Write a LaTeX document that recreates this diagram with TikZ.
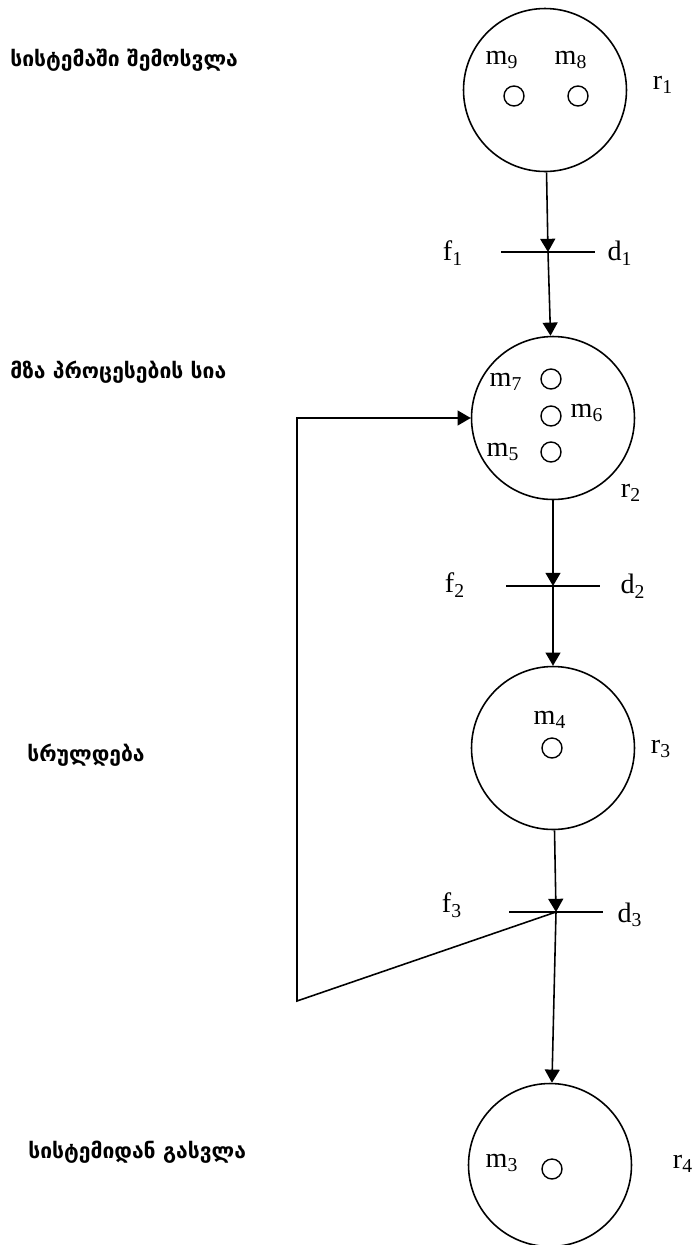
\documentclass[tikz,border=0pt]{standalone}
\usepackage{fontspec}
\setmainfont{Liberation Serif}
\newfontfamily\geofont{DejaVu Sans}
\usetikzlibrary{arrows.meta, positioning, calc}

\begin{document}
\begin{tikzpicture}[x=0.02cm, y=-0.02cm,
    place/.style={draw, line width=0.9pt, circle, minimum size=3.26cm, inner sep=0pt},
    token/.style={draw, line width=0.8pt, circle, minimum size=0.4cm, inner sep=0pt},
    bar/.style={draw, line width=0.9pt, rectangle, minimum width=1.88cm, minimum height=0pt, inner sep=0pt},
    lbl/.style={font=\fontsize{16}{18}\selectfont, inner sep=0pt},
    stage/.style={font=\geofont\bfseries\fontsize{12}{14}\selectfont, anchor=west, inner sep=0pt},
    arr/.style={line width=0.9pt, -{Triangle[length=7.5pt,width=8.5pt]}}
]
\useasboundingbox (0,0) rectangle (695,1245);

% places
\node[place] (r1) at (545,90) {};
\node[place] (r2) at (553,418) {};
\node[place] (r3) at (553,748) {};
\node[place] (r4) at (550,1165) {};

% tokens
\node[token] (k9) at (514,96) {};
\node[token] (k8) at (578,96) {};
\node[token] (k7) at (551,379) {};
\node[token] (k6) at (551,416) {};
\node[token] (k5) at (551,452) {};
\node[token] (k4) at (552,748) {};
\node[token] (k3) at (552,1169) {};

% transitions
\node[bar] (t1) at (548,252) {};
\node[bar] (t2) at (553,586) {};
\node[bar] (t3) at (556,912) {};

% labels
\node[lbl] (m9) at (502,60) {m\textsubscript{9}};
\node[lbl] (m8) at (571,60) {m\textsubscript{8}};
\node[lbl] (m7) at (506,382) {m\textsubscript{7}};
\node[lbl] (m6) at (587,413) {m\textsubscript{6}};
\node[lbl] (m5) at (503,452) {m\textsubscript{5}};
\node[lbl] (m4) at (550,720) {m\textsubscript{4}};
\node[lbl] (m3) at (502,1163) {m\textsubscript{3}};
\node[lbl] (lr1) at (663,85) {r\textsubscript{1}};
\node[lbl] (lr2) at (631,493) {r\textsubscript{2}};
\node[lbl] (lr3) at (661,749) {r\textsubscript{3}};
\node[lbl] (lr4) at (683,1164) {r\textsubscript{4}};
\node[lbl] (f1) at (453,253) {f\textsubscript{1}};
\node[lbl] (d1) at (620,253) {d\textsubscript{1}};
\node[lbl] (f2) at (455,585) {f\textsubscript{2}};
\node[lbl] (d2) at (633,586) {d\textsubscript{2}};
\node[lbl] (f3) at (452,905) {f\textsubscript{3}};
\node[lbl] (d3) at (630,915) {d\textsubscript{3}};

% stages
\node[stage] (s1) at (10,60) {სისტემაში შემოსვლა};
\node[stage] (s2) at (10,372) {მზა პროცესების სია};
\node[stage] (s3) at (27,755) {სრულდება};
\node[stage] (s4) at (28,1152) {სისტემიდან გასვლა};

% arcs
\coordinate (fbtop) at (297,418);
\coordinate (fbbot) at (297,1001);
\draw[arr] (r1) -- (t1.center);
\draw[arr] (t1.center) -- (r2);
\draw[arr] (r2) -- (t2.center);
\draw[arr] (t2.center) -- (r3);
\draw[arr] (r3) -- (t3.center);
\draw[arr] (t3.center) -- (r4);
\draw[arr] (t3.center) -- (fbbot) -- (fbtop) -- (r2.west);
\end{tikzpicture}
\end{document}
